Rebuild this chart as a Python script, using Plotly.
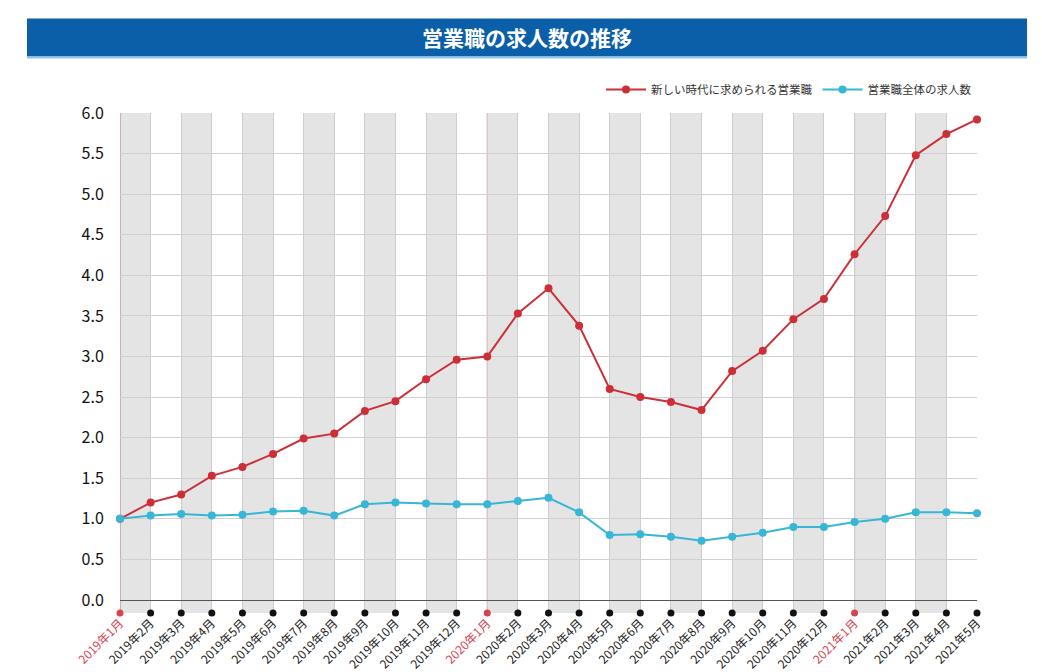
import plotly.graph_objects as go

months = ["2019年1月", "2019年2月", "2019年3月", "2019年4月", "2019年5月", "2019年6月",
          "2019年7月", "2019年8月", "2019年9月", "2019年10月", "2019年11月", "2019年12月",
          "2020年1月", "2020年2月", "2020年3月", "2020年4月", "2020年5月", "2020年6月",
          "2020年7月", "2020年8月", "2020年9月", "2020年10月", "2020年11月", "2020年12月",
          "2021年1月", "2021年2月", "2021年3月", "2021年4月", "2021年5月"]

new_sales = [1.00, 1.20, 1.30, 1.53, 1.64, 1.80, 1.99, 2.05, 2.33, 2.45, 2.72, 2.96,
             3.00, 3.53, 3.84, 3.38, 2.60, 2.50, 2.44, 2.34, 2.82, 3.07, 3.46, 3.71,
             4.26, 4.73, 5.48, 5.74, 5.92]

all_sales = [1.00, 1.04, 1.06, 1.04, 1.05, 1.09, 1.10, 1.04, 1.18, 1.20, 1.19, 1.18,
             1.18, 1.22, 1.26, 1.08, 0.80, 0.81, 0.78, 0.73, 0.78, 0.83, 0.90, 0.90,
             0.96, 1.00, 1.08, 1.08, 1.07]

y_ticks = [0.0, 0.5, 1.0, 1.5, 2.0, 2.5, 3.0, 3.5, 4.0, 4.5, 5.0, 5.5, 6.0]

RED = "#cc2f38"
CYAN = "#38b6d6"
JAN_RED = "#d9434f"
FONT = "Noto Sans CJK JP"
Y_BOTTOM = -0.16

x = list(range(len(months)))
is_jan = [m.endswith("年1月") for m in months]

fig = go.Figure()

fig.add_trace(go.Scatter(
    x=x, y=new_sales, mode="lines+markers", name="新しい時代に求められる営業職",
    line=dict(color=RED, width=2), marker=dict(color=RED, size=8),
    cliponaxis=False))
fig.add_trace(go.Scatter(
    x=x, y=all_sales, mode="lines+markers", name="営業職全体の求人数",
    line=dict(color=CYAN, width=2), marker=dict(color=CYAN, size=8),
    cliponaxis=False))

# dots on the category row
fig.add_trace(go.Scatter(
    x=x, y=[Y_BOTTOM] * len(x), mode="markers", showlegend=False, hoverinfo="skip",
    marker=dict(color=[JAN_RED if j else "#111111" for j in is_jan], size=7),
    cliponaxis=False))

shapes = []
# grey bands
for i in range(0, len(x) - 1, 2):
    shapes.append(dict(type="rect", xref="x", yref="y", x0=i, x1=i + 1, y0=Y_BOTTOM, y1=6.0,
                       fillcolor="#e4e4e4", line=dict(width=0), layer="below"))
# january red lines
for i, j in enumerate(is_jan):
    if j:
        shapes.append(dict(type="line", xref="x", yref="y", x0=i, x1=i, y0=Y_BOTTOM, y1=6.0,
                           line=dict(color="#d8707a", width=1), layer="below"))
# title bar
shapes.append(dict(type="rect", xref="paper", yref="paper", x0=-0.1085, x1=1.0584,
                   y0=1.113, y1=1.189, fillcolor="#0a5fa8", line=dict(width=0)))
shapes.append(dict(type="line", xref="paper", yref="paper", x0=-0.1085, x1=1.0584,
                   y0=1.111, y1=1.111, line=dict(color="#8cc4ea", width=2)))

ticktext = [f'<span style="color:{JAN_RED}">{m}</span>' if j else m for m, j in zip(months, is_jan)]

fig.update_layout(
    width=1042, height=672,
    margin=dict(l=120, r=65, t=113, b=59, autoexpand=False),
    paper_bgcolor="white", plot_bgcolor="white",
    font=dict(family=FONT, color="#222222"),
    shapes=shapes,
    showlegend=True,
    legend=dict(orientation="h", x=1.0, xanchor="right", y=1.047, yanchor="middle",
                font=dict(size=11.5, color="#333333"), bgcolor="rgba(0,0,0,0)",
                itemwidth=40, traceorder="normal"),
    annotations=[dict(text="<b>営業職の求人数の推移</b>", xref="paper", yref="paper",
                      x=0.475, y=1.151, xanchor="center", yanchor="middle", showarrow=False,
                      font=dict(size=21, color="white", family=FONT))],
)

fig.update_xaxes(
    range=[0, len(x) - 1], tickmode="array", tickvals=x, ticktext=ticktext,
    tickangle=-45, tickfont=dict(size=12, color="#222222"),
    showgrid=True, gridcolor="#cdcdcd", gridwidth=1, zeroline=False,
    showline=False, ticks="", fixedrange=True)

fig.update_yaxes(
    range=[Y_BOTTOM, 6.0], tickmode="array", tickvals=y_ticks,
    ticktext=[f"{v:.1f}" for v in y_ticks],
    tickfont=dict(size=16, color="#111111"),
    showgrid=True, gridcolor="#d0d0d0", gridwidth=1,
    zeroline=True, zerolinecolor="#555555", zerolinewidth=1,
    showline=False, ticks="outside", ticklen=12, tickcolor="rgba(0,0,0,0)",
    fixedrange=True)

fig.write_html("out.html", config={"displayModeBar": False},
               post_script="document.body.style.margin='0px';document.body.style.overflow='hidden';")
